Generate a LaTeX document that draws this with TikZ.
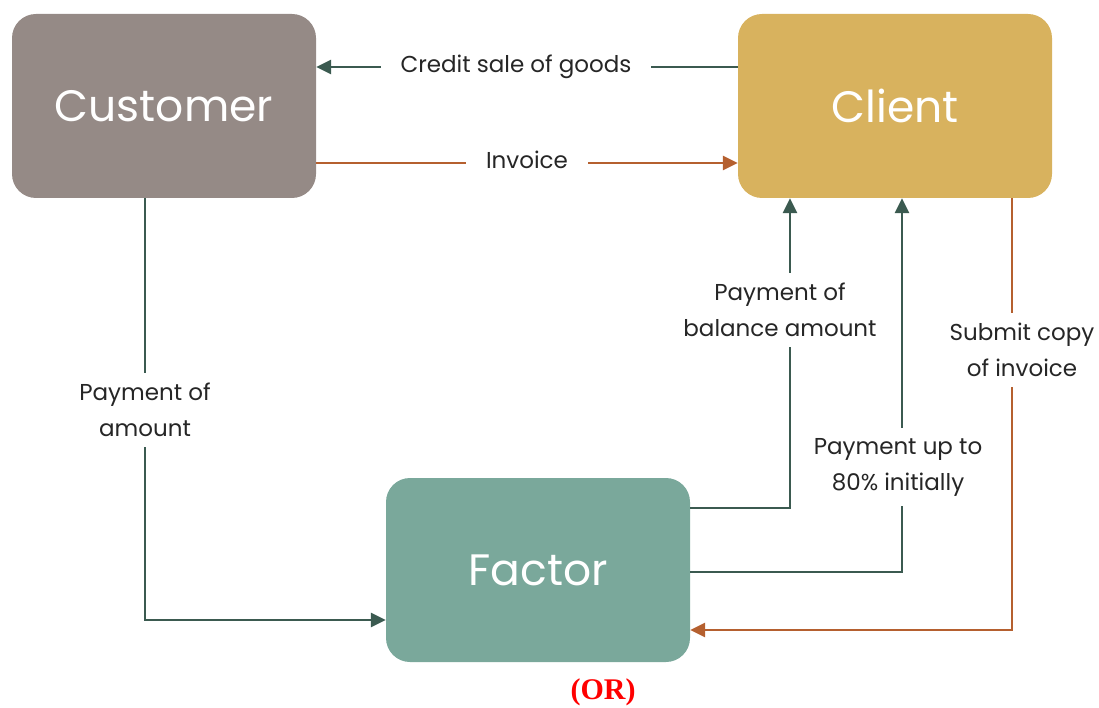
\documentclass[tikz,border=0pt]{standalone}
\usepackage{fontspec}
\setmainfont{Poppins}
\newfontfamily\timesf{Liberation Serif}
\usetikzlibrary{arrows.meta}
\definecolor{custc}{HTML}{958A86}
\definecolor{clic}{HTML}{D8B25E}
\definecolor{facc}{HTML}{7AA89B}
\definecolor{gline}{HTML}{3B5A50}
\definecolor{oline}{HTML}{B5602F}
\definecolor{orred}{HTML}{FF0000}
\tikzset{
  box/.style={rounded corners=24pt, minimum width=304pt, minimum height=184pt, text=white, font=\fontsize{44}{50}\selectfont, inner sep=0pt},
  lbl/.style={fill=white, align=center, font=\fontsize{23}{36}\selectfont, text=black!85, inner xsep=14pt, inner ysep=10pt},
  garrow/.style={draw=gline, line width=2.8pt, -{Triangle[length=15pt,width=14pt]}},
  oarrow/.style={draw=oline, line width=2.8pt, -{Triangle[length=15pt,width=14pt]}},
}
\begin{document}
\begin{tikzpicture}[x=1pt,y=-1pt]
\useasboundingbox (0,0) rectangle (1099,708);
\node[box, fill=custc] (customer) at (164,106) {Customer};
\node[box, fill=clic, minimum width=314pt] (client) at (895,106) {Client};
\node[box, fill=facc] (factor) at (538,570) {Factor};
% helper coordinates
\coordinate (r1) at (0,67);
\coordinate (r2) at (0,163);
\coordinate (c1) at (145,0);
\coordinate (r3) at (0,620);
\coordinate (c2) at (790,0);
\coordinate (r4) at (0,508);
\coordinate (c3) at (902,0);
\coordinate (r5) at (0,572);
\coordinate (c4) at (1012,0);
\coordinate (r6) at (0,630);
% connectors
\draw[garrow] (client.west |- r1) -- (customer.east |- r1);
\draw[oarrow] (customer.east |- r2) -- (client.west |- r2);
\draw[garrow] (customer.south -| c1) -- (c1 |- r3) -- (factor.west |- r3);
\draw[garrow] (factor.east |- r4) -- (c2 |- r4) -- (client.south -| c2);
\draw[garrow] (factor.east |- r5) -- (c3 |- r5) -- (client.south -| c3);
\draw[oarrow] (client.south -| c4) -- (c4 |- r6) -- (factor.east |- r6);
% labels
\node[lbl, inner xsep=20pt] (l1) at (516,67) {Credit sale of goods};
\node[lbl, inner xsep=20pt] (l2) at (527,160) {Invoice};
\node[lbl] (l3) at (145,410) {Payment of\\amount};
\node[lbl] (l4) at (780,310) {Payment of\\balance amount};
\node[lbl] (l5) at (898,467) {Payment up to\\80\% initially};
\node[lbl] (l6) at (1022,350) {Submit copy\\of invoice};
\node[font=\timesf\bfseries\fontsize{30}{32}\selectfont, text=orred] (or) at (603,692) {(OR)};
\end{tikzpicture}
\end{document}
